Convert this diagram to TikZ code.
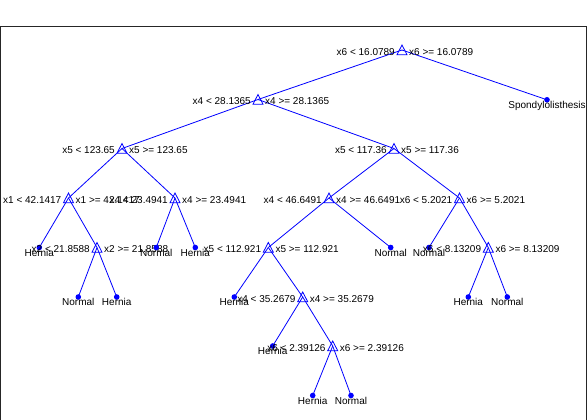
\documentclass[tikz,border=0pt]{standalone}
\usepackage{fontspec}
\setmainfont{Liberation Sans}
\begin{document}
\begin{tikzpicture}[x=1pt,y=-1pt,
  edge/.style={draw=blue,line width=0.8pt},
  splitmark/.style={draw=blue,line width=0.8pt},
  leafmark/.style={circle,fill=blue,inner sep=0pt,minimum size=5.6pt},
  cond/.style={inner sep=0pt,font=\fontsize{10}{12}\selectfont,text=black},
  leaftext/.style={inner sep=0pt,anchor=north,font=\fontsize{10}{12}\selectfont,text=black},
  frame/.style={draw=black!85,line width=1pt}]
\useasboundingbox (0,0) rectangle (587,420);
\fill[white] (0,0) rectangle (587,420);

% axes frame (open at the bottom)
\draw[frame] (0.5,421) -- (0.5,26.5) -- (586.3,26.5) -- (586.3,421);

% tree node positions
\coordinate (n1) at (402,50);
\coordinate (n2) at (258,99.5);
\coordinate (n3) at (547,99.8);
\coordinate (n4) at (122,148.5);
\coordinate (n5) at (394,148.5);
\coordinate (n6) at (68.5,198);
\coordinate (n7) at (175,198);
\coordinate (n8) at (329,198);
\coordinate (n9) at (459.5,198);
\coordinate (n10) at (39.3,247.5);
\coordinate (n11) at (97,247.5);
\coordinate (n12) at (156.3,247.5);
\coordinate (n13) at (195.3,247.5);
\coordinate (n14) at (268.3,247.5);
\coordinate (n15) at (390.7,247.5);
\coordinate (n16) at (429,247.5);
\coordinate (n17) at (488.3,247.5);
\coordinate (n18) at (78.3,297);
\coordinate (n19) at (116.7,297);
\coordinate (n20) at (234.3,297);
\coordinate (n21) at (302.7,297);
\coordinate (n22) at (468.3,297);
\coordinate (n23) at (507.3,297);
\coordinate (n24) at (272.7,346);
\coordinate (n25) at (332.7,346);
\coordinate (n26) at (312.7,395.5);
\coordinate (n27) at (351,395.5);

% branches
\foreach \a/\b in {n1/n2,n1/n3,n2/n4,n2/n5,n4/n6,n4/n7,n5/n8,n5/n9,
  n6/n10,n6/n11,n7/n12,n7/n13,n8/n14,n8/n15,n9/n16,n9/n17,
  n11/n18,n11/n19,n14/n20,n14/n21,n17/n22,n17/n23,
  n21/n24,n21/n25,n25/n26,n25/n27}
  \draw[edge] (\a) -- (\b);

% split markers and their conditions
\newcommand\splitnode[3]{%
  \draw[splitmark] ([shift={(-5,4.7)}]#1) -- ([shift={(0,-5)}]#1)
    -- ([shift={(5,4.7)}]#1) -- cycle;
  \node[cond,anchor=east] (#1-l) at ([shift={(-7,1.8)}]#1) {#2};
  \node[cond,anchor=west] (#1-r) at ([shift={(7,1.8)}]#1) {#3};}
% leaf markers and their classes
\newcommand\leafnode[2]{%
  \node[leafmark] (#1-m) at (#1) {};
  \node[leaftext] (#1-t) at ([shift={(0,1.5)}]#1) {#2};}

\splitnode{n1}{x6 < 16.0789}{x6 >= 16.0789}
\splitnode{n2}{x4 < 28.1365}{x4 >= 28.1365}
\leafnode{n3}{Spondylolisthesis}
\splitnode{n4}{x5 < 123.65}{x5 >= 123.65}
\splitnode{n5}{x5 < 117.36}{x5 >= 117.36}
\splitnode{n6}{x1 < 42.1417}{x1 >= 42.1417}
\splitnode{n7}{x4 < 23.4941}{x4 >= 23.4941}
\splitnode{n8}{x4 < 46.6491}{x4 >= 46.6491}
\splitnode{n9}{x6 < 5.2021}{x6 >= 5.2021}
\leafnode{n10}{Hernia}
\splitnode{n11}{x2 < 21.8588}{x2 >= 21.8588}
\leafnode{n12}{Normal}
\leafnode{n13}{Hernia}
\splitnode{n14}{x5 < 112.921}{x5 >= 112.921}
\leafnode{n15}{Normal}
\leafnode{n16}{Normal}
\splitnode{n17}{x6 < 8.13209}{x6 >= 8.13209}
\leafnode{n18}{Normal}
\leafnode{n19}{Hernia}
\leafnode{n20}{Hernia}
\splitnode{n21}{x4 < 35.2679}{x4 >= 35.2679}
\leafnode{n22}{Hernia}
\leafnode{n23}{Normal}
\leafnode{n24}{Hernia}
\splitnode{n25}{x6 < 2.39126}{x6 >= 2.39126}
\leafnode{n26}{Hernia}
\leafnode{n27}{Normal}
\end{tikzpicture}
\end{document}
